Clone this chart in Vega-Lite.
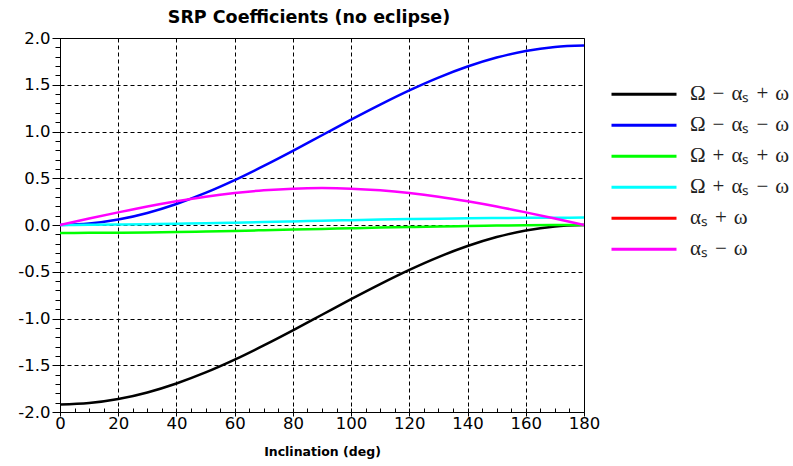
{
  "$schema": "https://vega.github.io/schema/vega-lite/v6.json",
  "width": 524,
  "height": 374,
  "autosize": {"type": "none"},
  "padding": {"left": 60, "top": 38, "right": 209, "bottom": 54},
  "background": "white",
  "config": {"view": {"stroke": "black", "strokeWidth": 1}, "font": "DejaVu Sans"},
  "title": {"text": "SRP Coefficients (no eclipse)", "fontSize": 17.5, "fontWeight": "bold", "font": "DejaVu Sans", "color": "black", "anchor": "middle", "dx": -13, "offset": 4},
  "data": {"values": [
    {"i": 0, "A": -1.920, "B": 0.000, "C": -0.085, "D": 0.000, "F": 0.000},
    {"i": 10, "A": -1.905, "B": 0.015, "C": -0.084, "D": 0.002, "F": 0.069},
    {"i": 20, "A": -1.862, "B": 0.058, "C": -0.082, "D": 0.005, "F": 0.135},
    {"i": 30, "A": -1.791, "B": 0.129, "C": -0.079, "D": 0.009, "F": 0.198},
    {"i": 40, "A": -1.695, "B": 0.225, "C": -0.075, "D": 0.014, "F": 0.254},
    {"i": 50, "A": -1.577, "B": 0.343, "C": -0.069, "D": 0.019, "F": 0.303},
    {"i": 60, "A": -1.440, "B": 0.480, "C": -0.063, "D": 0.025, "F": 0.342},
    {"i": 70, "A": -1.288, "B": 0.632, "C": -0.056, "D": 0.031, "F": 0.371},
    {"i": 80, "A": -1.127, "B": 0.793, "C": -0.049, "D": 0.038, "F": 0.389},
    {"i": 90, "A": -0.960, "B": 0.960, "C": -0.042, "D": 0.045, "F": 0.395},
    {"i": 100, "A": -0.793, "B": 1.127, "C": -0.035, "D": 0.052, "F": 0.389},
    {"i": 110, "A": -0.632, "B": 1.288, "C": -0.028, "D": 0.058, "F": 0.371},
    {"i": 120, "A": -0.480, "B": 1.440, "C": -0.022, "D": 0.063, "F": 0.342},
    {"i": 130, "A": -0.343, "B": 1.577, "C": -0.016, "D": 0.068, "F": 0.303},
    {"i": 140, "A": -0.225, "B": 1.695, "C": -0.011, "D": 0.072, "F": 0.254},
    {"i": 150, "A": -0.129, "B": 1.791, "C": -0.006, "D": 0.075, "F": 0.198},
    {"i": 160, "A": -0.058, "B": 1.862, "C": -0.003, "D": 0.077, "F": 0.135},
    {"i": 170, "A": -0.015, "B": 1.905, "C": -0.001, "D": 0.078, "F": 0.069},
    {"i": 180, "A": 0.000, "B": 1.920, "C": 0.000, "D": 0.079, "F": 0.000}
  ]},
  "transform": [{"fold": ["A", "B", "C", "D", "F"], "as": ["s", "v"]}],
  "layer": [
    {
      "mark": {"type": "line", "strokeWidth": 2.5, "interpolate": "monotone"},
      "encoding": {
        "x": {"field": "i", "type": "quantitative", "scale": {"domain": [0, 180], "nice": false},
          "axis": {"values": [0, 20, 40, 60, 80, 100, 120, 140, 160, 180], "grid": true, "gridDash": [4, 3], "gridColor": "black", "gridWidth": 1, "gridOpacity": 1,
            "tickSize": 4, "tickColor": "black", "domainColor": "black", "labelFontSize": 16.5, "labelColor": "black", "labelPadding": -1, "labelFlush": false, "labelFont": "DejaVu Sans",
            "title": "Inclination (deg)", "titleFontSize": 12.5, "titleFontWeight": "bold", "titleColor": "black", "titleFont": "DejaVu Sans", "titlePadding": 14}},
        "y": {"field": "v", "type": "quantitative", "scale": {"domain": [-2, 2], "nice": false},
          "axis": {"values": [-2, -1.5, -1, -0.5, 0, 0.5, 1, 1.5, 2], "grid": true, "gridDash": [4, 3], "gridColor": "black", "gridWidth": 1, "gridOpacity": 1,
            "tickSize": 8, "tickColor": "black", "domainColor": "black", "labelFontSize": 16.5, "labelColor": "black", "labelPadding": 2, "labelFont": "DejaVu Sans", "labelFlush": false,
            "labelExpr": "replace(format(datum.value, '.1f'), '\u2212', '-')", "title": null}},
        "color": {"field": "s", "type": "nominal",
          "scale": {"domain": ["A", "B", "C", "D", "E", "F"], "range": ["#000000", "#0000ff", "#00ff00", "#00ffff", "#ff0000", "#ff00ff"]},
          "legend": {"title": null, "orient": "none", "legendX": 550, "legendY": 41, "symbolType": "stroke", "symbolSize": 4225, "symbolStrokeWidth": 3,
            "labelFont": "Liberation Serif", "labelFontSize": 21, "labelColor": "#222222", "labelOffset": 12, "rowPadding": 0, "clipHeight": 30.5, "labelLimit": 300,
            "labelExpr": "datum.label == 'A' ? 'Ω\u2004−\u2004αₛ\u2004+\u2004ω' : datum.label == 'B' ? 'Ω\u2004−\u2004αₛ\u2004−\u2004ω' : datum.label == 'C' ? 'Ω\u2004+\u2004αₛ\u2004+\u2004ω' : datum.label == 'D' ? 'Ω\u2004+\u2004αₛ\u2004−\u2004ω' : datum.label == 'E' ? 'αₛ\u2004+\u2004ω' : 'αₛ\u2004−\u2004ω'"}}
      }
    },
    {
      "mark": {"type": "point", "opacity": 0},
      "encoding": {
        "x": {"field": "i", "type": "quantitative",
          "axis": {"orient": "bottom", "values": [0, 5, 10, 15, 20, 25, 30, 35, 40, 45, 50, 55, 60, 65, 70, 75, 80, 85, 90, 95, 100, 105, 110, 115, 120, 125, 130, 135, 140, 145, 150, 155, 160, 165, 170, 175, 180],
            "labels": false, "grid": false, "domain": false, "tickSize": -4, "tickColor": "black", "title": null}},
        "y": {"field": "v", "type": "quantitative",
          "axis": {"orient": "left", "values": [-2, -1.9, -1.8, -1.7, -1.6, -1.5, -1.4, -1.3, -1.2, -1.1, -1, -0.9, -0.8, -0.7, -0.6, -0.5, -0.4, -0.3, -0.2, -0.1, 0, 0.1, 0.2, 0.3, 0.4, 0.5, 0.6, 0.7, 0.8, 0.9, 1, 1.1, 1.2, 1.3, 1.4, 1.5, 1.6, 1.7, 1.8, 1.9, 2],
            "labels": false, "grid": false, "domain": false, "tickSize": 5, "tickColor": "black", "title": null}}
      }
    }
  ],
  "resolve": {"axis": {"x": "independent", "y": "independent"}}
}
